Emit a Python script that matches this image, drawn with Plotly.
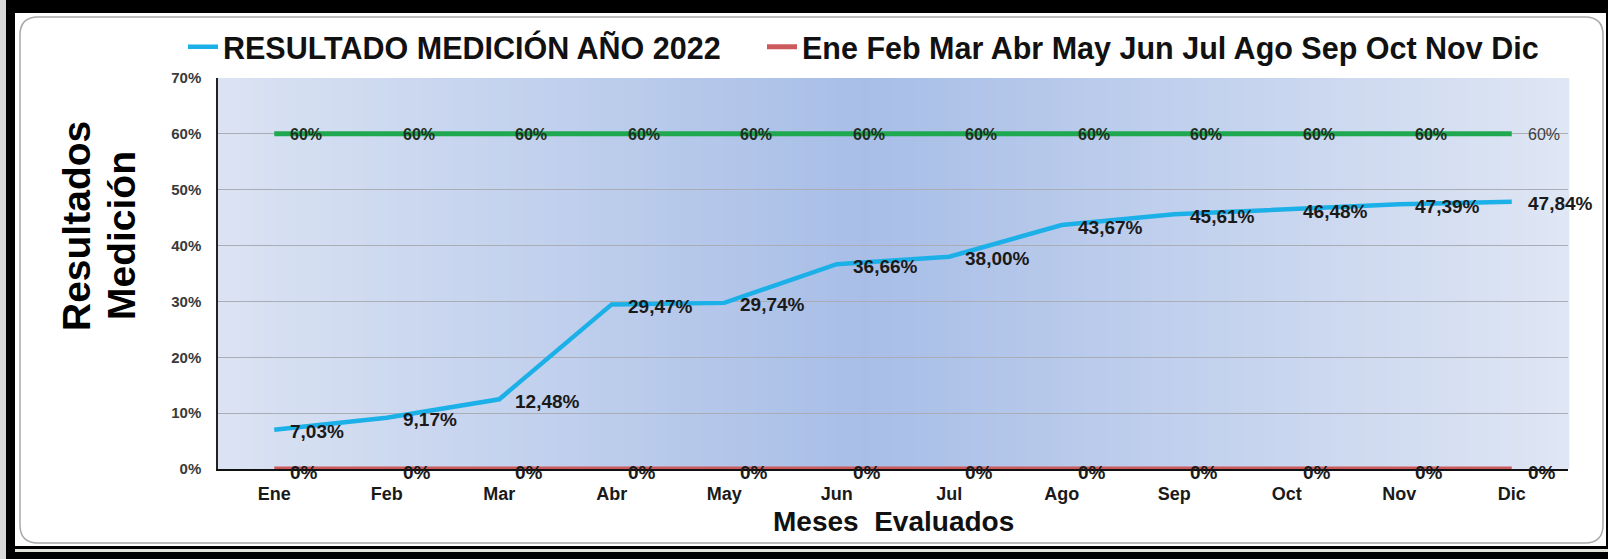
import plotly.graph_objects as go

# ---------------- data ----------------
months = ["Ene", "Feb", "Mar", "Abr", "May", "Jun", "Jul", "Ago", "Sep", "Oct", "Nov", "Dic"]
resultado = [0.0703, 0.0917, 0.1248, 0.2947, 0.2974, 0.3666, 0.3800, 0.4367, 0.4561, 0.4648, 0.4739, 0.4784]
meta = [0.60] * 12
base = [0.0] * 12
y_ticks = [0.0, 0.1, 0.2, 0.3, 0.4, 0.5, 0.6, 0.7]
name_resultado = "RESULTADO MEDICIÓN AÑO 2022"
name_base = "Ene Feb Mar Abr May Jun Jul Ago Sep Oct Nov Dic"
x_title = "Meses\u00a0 Evaluados"
y_title_lines = ["Resultados", "Medición"]

# ---------------- geometry ----------------
W, H = 1608, 559
L, R, T, B = 218, 40, 78, 90
PW, PH = W - L - R, H - T - B
FONT = "Liberation Sans, Arial, sans-serif"


def px(x):
    return (x - L) / PW


def py(y):
    return (H - B - y) / PH


def pct(v):
    return f"{v * 100:.2f}".replace(".", ",") + "%"


xs = list(range(len(months)))

fig = go.Figure()
fig.add_trace(go.Scatter(x=xs, y=resultado, mode="lines", name=name_resultado, legend="legend",
                         line=dict(color="#1cb0e8", width=4.5), hoverinfo="skip"))
fig.add_trace(go.Scatter(x=xs, y=base, mode="lines", name=name_base, legend="legend2",
                         line=dict(color="#cc5a5c", width=5), hoverinfo="skip"))
fig.add_trace(go.Scatter(x=xs, y=meta, mode="lines", name="Meta", showlegend=False,
                         line=dict(color="#1fa84f", width=5), hoverinfo="skip"))

shapes = []
# outer frame pieces
shapes.append(dict(type="rect", xref="paper", yref="paper", x0=px(0), x1=px(6), y0=py(559), y1=py(0),
                   fillcolor="#d9d9d9", line=dict(width=0), layer="below"))
shapes.append(dict(type="rect", xref="paper", yref="paper", x0=px(15), x1=px(1608), y0=py(552), y1=py(549),
                   fillcolor="#e2e2da", line=dict(width=0), layer="below"))
shapes.append(dict(type="rect", xref="paper", yref="paper", x0=px(15), x1=px(1606), y0=py(546), y1=py(13),
                   fillcolor="white", line=dict(width=0), layer="below"))
# rounded panel outline
x0, x1, y0, y1, r = 20, 1603, 17, 543, 18


def P(x, y):
    return f"{px(x):.6f},{py(y):.6f}"


path = (f"M{P(x0 + r, y0)} L{P(x1 - r, y0)} Q{P(x1, y0)} {P(x1, y0 + r)} "
        f"L{P(x1, y1 - r)} Q{P(x1, y1)} {P(x1 - r, y1)} L{P(x0 + r, y1)} "
        f"Q{P(x0, y1)} {P(x0, y1 - r)} L{P(x0, y0 + r)} Q{P(x0, y0)} {P(x0 + r, y0)} Z")
shapes.append(dict(type="path", xref="paper", yref="paper", path=path,
                   fillcolor="white", line=dict(color="#a8a8a8", width=1.5), layer="below"))

# plot-area gradient (light edges, darker blue centre)
edge_l = (219, 227, 243)
edge_r = (223, 230, 244)
centre = (168, 190, 231)
N = 120
cx = 0.48
for i in range(N):
    a, b = i / N, (i + 1) / N
    m = (a + b) / 2
    if m < cx:
        t = m / cx
        c = [edge_l[k] + (centre[k] - edge_l[k]) * t for k in range(3)]
    else:
        t = (1 - m) / (1 - cx)
        c = [edge_r[k] + (centre[k] - edge_r[k]) * t for k in range(3)]
    col = "rgb({:.0f},{:.0f},{:.0f})".format(*c)
    shapes.append(dict(type="rect", xref="paper", yref="paper", x0=a, x1=b + 0.001, y0=0, y1=1,
                       fillcolor=col, line=dict(width=0), layer="below"))

annotations = []
for i, v in enumerate(resultado):
    annotations.append(dict(x=i, y=v, xref="x", yref="y", text=pct(v), showarrow=False,
                            xanchor="left", yanchor="middle", xshift=14, yshift=-2,
                            font=dict(family=FONT, size=19, color="#1a1a1a", weight="bold")))
for i, v in enumerate(meta):
    last = i == len(meta) - 1
    annotations.append(dict(x=i, y=v, xref="x", yref="y", text=f"{v * 100:.0f}%", showarrow=False,
                            xanchor="left", yanchor="middle", xshift=14, yshift=-1,
                            font=dict(family=FONT, size=16, color="#404040" if last else "#1f2d24",
                                      weight="normal" if last else "bold")))
for i, v in enumerate(base):
    annotations.append(dict(x=i, y=v, xref="x", yref="y", text=f"{v * 100:.0f}%", showarrow=False,
                            xanchor="left", yanchor="middle", xshift=14, yshift=-3,
                            font=dict(family=FONT, size=19, color="#1a1a1a", weight="bold")))
# axis titles
annotations.append(dict(x=px(893), y=py(521), xref="paper", yref="paper", text=x_title, showarrow=False,
                        xanchor="center", yanchor="middle",
                        font=dict(family=FONT, size=28, color="#111111", weight="bold")))
for (cx_px, cy_px), line in zip([(77, 226), (122, 236)], y_title_lines):
    annotations.append(dict(x=px(cx_px), y=py(cy_px), xref="paper", yref="paper", text=line,
                            showarrow=False, textangle=-90, xanchor="center", yanchor="middle",
                            font=dict(family=FONT, size=39, color="#000000", weight="bold")))

legend_style = dict(orientation="h", xanchor="left", yanchor="middle",
                    bgcolor="rgba(0,0,0,0)", borderwidth=0,
                    font=dict(family=FONT, size=30.5, color="#111111", weight="bold"))

fig.update_layout(
    width=W, height=H, autosize=False,
    margin=dict(l=L, r=R, t=T, b=B, pad=0, autoexpand=False),
    paper_bgcolor="black", plot_bgcolor="rgba(0,0,0,0)",
    font=dict(family=FONT),
    shapes=shapes, annotations=annotations,
    showlegend=True,
    legend=dict(x=px(183), y=py(47), **legend_style),
    legend2=dict(x=px(762), y=py(47), **legend_style),
    xaxis=dict(range=[-0.5, 11.5], tickmode="array", tickvals=xs, ticktext=months,
               showgrid=False, zeroline=False, showline=True, linecolor="#111111", linewidth=1.5,
               ticks="", layer="below traces", ticklabelstandoff=8,
               tickfont=dict(family=FONT, size=18, color="#1a1a1a", weight="bold")),
    yaxis=dict(range=[0, 0.7], tickmode="array", tickvals=y_ticks, tickformat=".0%",
               showgrid=True, gridcolor="#a9adb5", gridwidth=1, zeroline=False,
               showline=True, linecolor="#222222", linewidth=1.5, ticks="", layer="below traces",
               ticklabelstandoff=12,
               tickfont=dict(family=FONT, size=15, color="#3a3a3a", weight="bold")),
)

fig.write_html("out.html", config={"displayModeBar": False},
               post_script="document.body.style.margin='0';document.body.style.overflow='hidden';")
